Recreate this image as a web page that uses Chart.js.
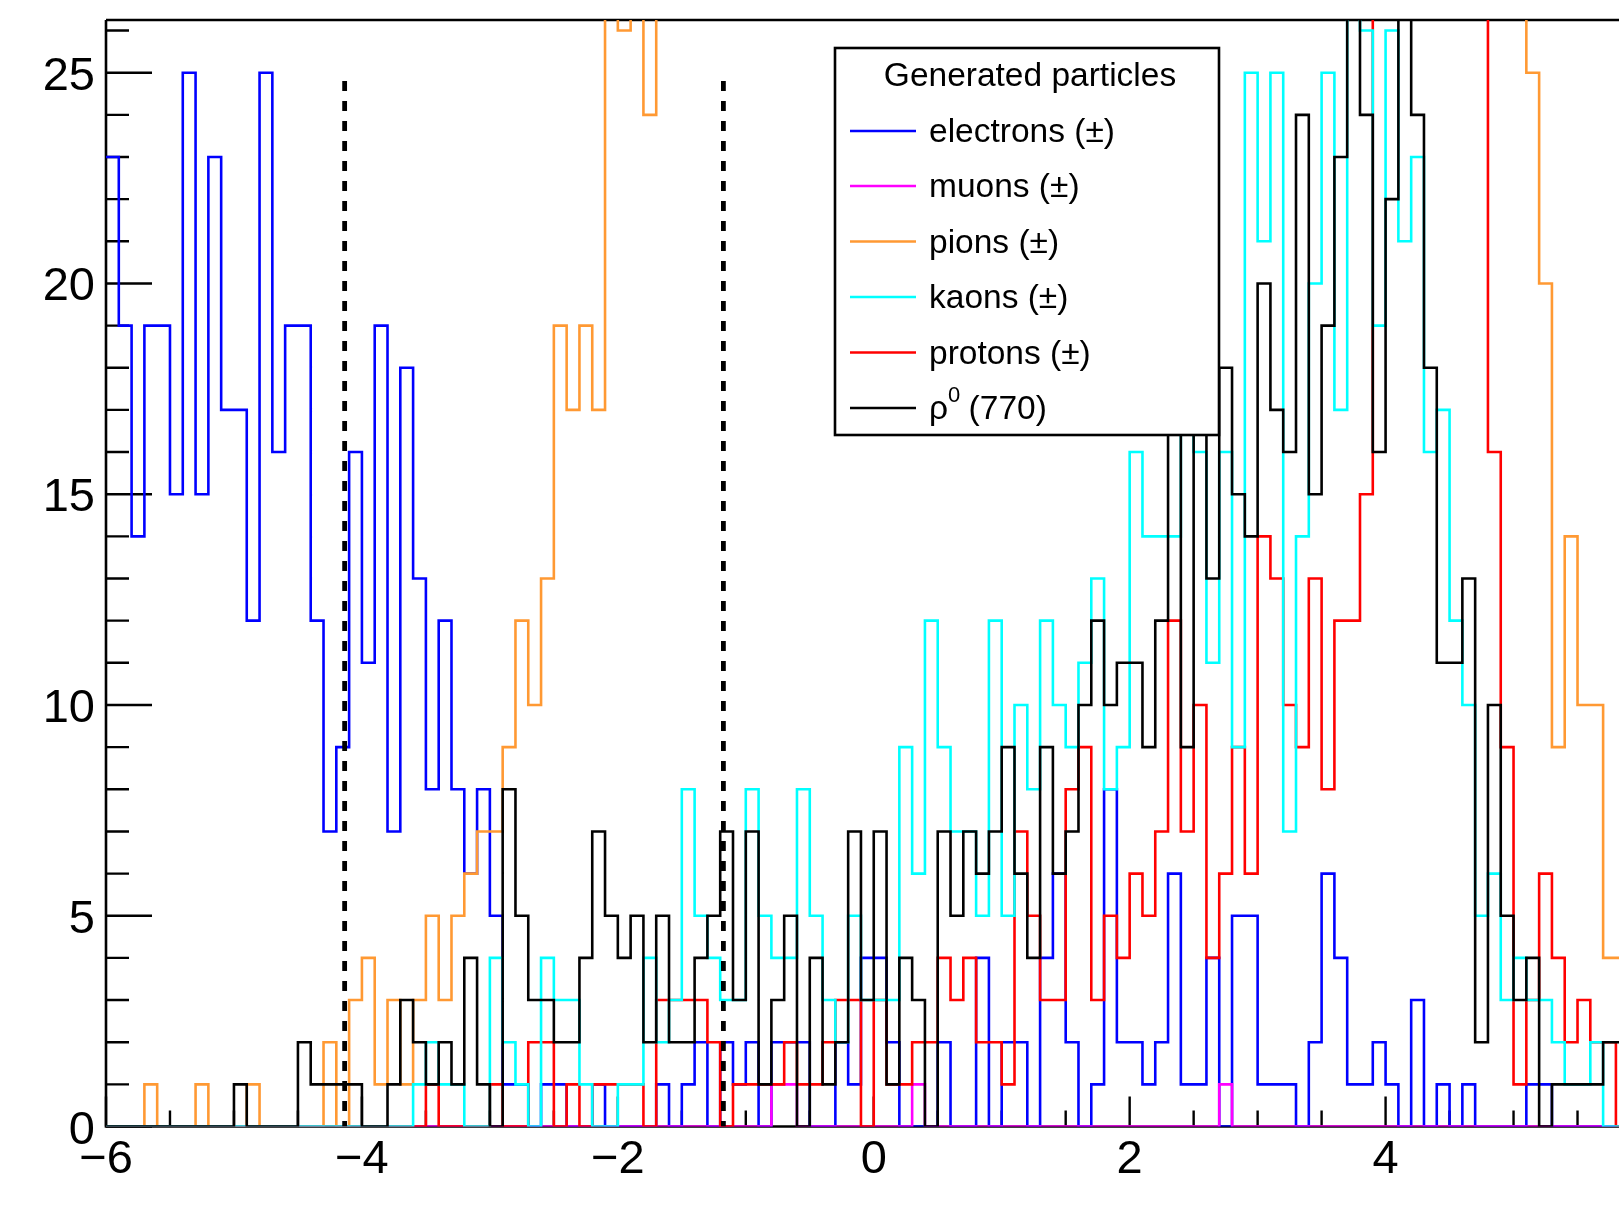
<!DOCTYPE html>
<html>
<head>
<meta charset="utf-8">
<title>Generated particles</title>
<script src="https://cdn.jsdelivr.net/npm/chart.js@4.4.1/dist/chart.umd.min.js"></script>
<style>
  html, body { margin: 0; padding: 0; background: #fff; overflow: hidden; }
  #wrap { width: 1619px; height: 1212px; overflow: hidden; }
</style>
</head>
<body>
<div id="wrap"><canvas id="eta" width="1660" height="1212"></canvas></div>
<script>
// 120 bins of width 0.1 from -6 to 6
const binLow = -6, binWidth = 0.1;

const electrons = [
  23,19,14,19,19,15,25,15,23,17, 17,12,25,16,19,19,12,7,9,16,
  11,19,7,18,13,8,12,8,6,8,     5,1,1,0,1,1,0,0,1,0,
  0,0,0,1,0,1,2,0,2,1,          2,0,2,2,2,0,0,2,1,4,
  4,2,0,0,0,2,0,0,4,0,          2,2,0,4,6,2,0,1,8,2,
  2,1,2,6,1,1,4,0,5,5,          1,1,1,0,2,6,4,1,1,2,
  1,0,3,0,1,0,1,0,0,0,          0,1,1,0,0,0,0,0,0,0
];
const muons = [
  0,0,0,0,0,0,0,0,0,0, 0,0,0,0,0,0,0,0,0,0,
  0,0,0,0,0,0,0,0,0,0, 0,0,0,0,0,0,0,0,0,0,
  0,0,0,0,0,0,0,0,0,0, 0,0,1,1,0,0,0,0,0,0,
  0,0,0,1,0,0,0,0,0,0, 0,0,0,0,0,0,0,0,0,0,
  0,0,0,0,0,0,0,1,0,0, 0,0,0,0,0,0,0,0,0,0,
  0,0,0,0,0,0,0,0,0,0, 0,0,0,0,0,0,0,0,0,0
];
const pions = [
  0,0,0,1,0,0,0,1,0,0,          0,1,0,0,0,0,0,2,0,3,
  4,1,3,1,3,5,3,5,6,7,          7,9,12,10,13,19,17,19,17,27,
  26,28,24,30,32,31,34,36,33,37, 39,36,40,42,38,41,44,40,43,46,
  42,45,47,44,48,46,50,47,49,52, 48,51,53,49,52,55,50,53,51,54,
  50,52,48,51,49,47,50,46,48,44, 46,43,45,41,43,39,41,37,38,35,
  36,33,34,31,32,30,31,29,28,29, 27,25,20,9,14,10,10,4,4,3
];
const kaons = [
  0,0,0,0,0,0,0,0,0,0,          0,0,0,0,0,0,0,0,0,0,
  0,0,0,0,1,2,1,1,0,0,          4,2,1,0,4,3,3,1,0,0,
  1,1,4,2,3,8,5,4,3,3,          8,5,4,4,8,5,3,2,5,3,
  3,3,9,6,12,9,7,7,5,12,        5,10,8,12,10,9,11,13,8,9,
  16,14,14,14,17,16,11,16,9,25, 21,25,7,14,20,25,17,27,26,19,
  26,21,23,16,17,12,10,5,6,3,   4,3,3,2,1,1,2,0,0,0
];
const protons = [
  0,0,0,0,0,0,0,0,0,0,          0,0,0,0,0,0,0,0,0,0,
  0,0,0,0,0,1,0,0,0,0,          1,0,0,2,2,0,1,0,1,1,
  1,1,0,3,3,3,3,2,0,1,          1,1,1,2,1,1,2,3,3,0,
  3,1,1,2,2,4,3,4,2,2,          1,7,5,3,3,8,9,3,5,4,
  6,5,7,12,7,10,4,6,9,6,        14,13,10,9,13,8,12,12,15,28,
  30,32,29,33,31,30,28,27,16,9, 1,3,6,4,2,3,2,2,0,0
];
const rho = [
  0,0,0,0,0,0,0,0,0,0,          1,0,0,0,0,2,1,1,1,1,
  0,0,1,3,2,1,2,1,4,1,          0,8,5,3,3,2,2,4,7,5,
  4,5,2,5,2,2,4,5,7,3,          7,1,3,5,0,4,1,2,7,3,
  7,1,4,3,0,7,5,7,6,7,          9,6,4,9,6,7,10,12,10,11,
  11,9,12,18,9,17,13,18,15,14,  20,17,16,24,15,19,23,28,24,16,
  22,27,24,18,11,11,13,2,10,5,  3,4,0,1,1,1,1,2,2,1
];

// vertical dashed cuts
const cutPositions = [-4.135, -1.175];
const cutHeight = 24.8;

const xTickLabels = [-6, -4, -2, 0, 2, 4, 6];
const yTickLabels = [0, 5, 10, 15, 20, 25];
const yMax = 26.25;

// order: lower number is painted later (on top)
const series = [
  { label: 'electrons (\u00b1)', counts: electrons, color: '#0000ff', order: 6 },
  { label: 'muons (\u00b1)',     counts: muons,     color: '#ff00ff', order: 4 },
  { label: 'pions (\u00b1)',     counts: pions,     color: '#ff9933', order: 5 },
  { label: 'kaons (\u00b1)',     counts: kaons,     color: '#00ffff', order: 2 },
  { label: 'protons (\u00b1)',   counts: protons,   color: '#ff0000', order: 3 },
  { label: '\u03c1',             counts: rho,       color: '#000000', order: 1 }
];

// outline starts on the first bin top, the left wall sits on the y axis
function outline(counts) {
  const pts = [];
  counts.forEach((c, i) => pts.push({ x: binLow + i * binWidth, y: c }));
  const end = binLow + counts.length * binWidth;
  pts.push({ x: end, y: counts[counts.length - 1] });
  pts.push({ x: end, y: 0 });
  return pts;
}

const FONT = '"Liberation Sans", Arial, Helvetica, sans-serif';

// axes go under the histograms, as in a ROOT pad
const frame = {
  id: 'frame',
  beforeDatasetsDraw(chart) {
    const { ctx, chartArea: a, scales: { x, y } } = chart;
    ctx.save();
    ctx.strokeStyle = '#000';
    ctx.lineWidth = 2.6;
    ctx.beginPath();
    ctx.moveTo(a.left, a.top);
    ctx.lineTo(a.left, a.bottom);
    ctx.lineTo(a.right, a.bottom);
    ctx.moveTo(a.left, a.top);
    ctx.lineTo(a.right, a.top);
    ctx.stroke();

    ctx.lineWidth = 2.4;
    ctx.beginPath();
    for (let v = 0; v <= Math.floor(yMax); v++) {
      const py = y.getPixelForValue(v);
      ctx.moveTo(a.left, py);
      ctx.lineTo(a.left + (v % 5 === 0 ? 46 : 23), py);
    }
    for (let k = -12; k <= 12; k++) {
      const px = x.getPixelForValue(k / 2);
      ctx.moveTo(px, a.bottom);
      ctx.lineTo(px, a.bottom - (k % 4 === 0 ? 30 : 16));
    }
    ctx.stroke();

    ctx.fillStyle = '#000';
    ctx.font = '47px ' + FONT;
    ctx.textBaseline = 'alphabetic';
    ctx.textAlign = 'right';
    yTickLabels.forEach(v => ctx.fillText(String(v), 95, y.getPixelForValue(v) + 17));
    ctx.textAlign = 'center';
    xTickLabels.forEach(v => {
      const t = v < 0 ? '\u2212' + Math.abs(v) : String(v);
      ctx.fillText(t, x.getPixelForValue(v), 1173);
    });
    ctx.restore();
  }
};

const legendBox = {
  id: 'legendBox',
  afterDatasetsDraw(chart) {
    const ctx = chart.ctx;
    const box = { l: 835, t: 48, w: 384, h: 387 };
    ctx.save();
    ctx.fillStyle = '#fff';
    ctx.fillRect(box.l, box.t, box.w, box.h);
    ctx.strokeStyle = '#000';
    ctx.lineWidth = 2.6;
    ctx.strokeRect(box.l, box.t, box.w, box.h);

    ctx.fillStyle = '#000';
    ctx.font = '33.5px ' + FONT;
    ctx.textAlign = 'center';
    ctx.textBaseline = 'middle';
    ctx.fillText('Generated particles', 1030, 77);

    const rows = [131, 186, 241.5, 297, 352.5, 408];
    ctx.textAlign = 'left';
    series.forEach((s, i) => {
      const y = rows[i];
      ctx.strokeStyle = s.color;
      ctx.lineWidth = 2.6;
      ctx.beginPath();
      ctx.moveTo(850, y);
      ctx.lineTo(916, y);
      ctx.stroke();
      ctx.fillStyle = '#000';
      ctx.font = '33.5px ' + FONT;
      if (s.label === '\u03c1') {
        ctx.fillText('\u03c1', 929, y + 2);
        const w = ctx.measureText('\u03c1').width;
        ctx.font = '22px ' + FONT;
        ctx.fillText('0', 929 + w, y - 12);
        const w0 = ctx.measureText('0').width;
        ctx.font = '33.5px ' + FONT;
        ctx.fillText(' (770)', 929 + w + w0 - 1, y + 2);
      } else {
        ctx.fillText(s.label, 929, y + 2);
      }
    });
    ctx.restore();
  }
};

const datasets = series.map(s => ({
  label: s.label,
  data: outline(s.counts),
  borderColor: s.color,
  borderWidth: 2.6,
  stepped: 'before',
  pointRadius: 0,
  fill: false,
  order: s.order
}));
cutPositions.forEach(c => datasets.push({
  label: 'cut',
  data: [{ x: c, y: cutHeight }, { x: c, y: 0 }],
  borderColor: '#000',
  borderWidth: 4.8,
  borderDash: [10, 10],
  pointRadius: 0,
  fill: false,
  order: 0
}));

new Chart(document.getElementById('eta'), {
  type: 'line',
  data: { datasets },
  options: {
    responsive: false,
    animation: false,
    devicePixelRatio: 1,
    layout: { padding: { left: 106, right: 18.5, top: 20, bottom: 85.5 } },
    scales: {
      x: { type: 'linear', min: -6, max: 6, display: false },
      y: { type: 'linear', min: 0, max: yMax, display: false }
    },
    plugins: {
      legend: { display: false },
      tooltip: { enabled: false }
    }
  },
  plugins: [frame, legendBox]
});
</script>
</body>
</html>
